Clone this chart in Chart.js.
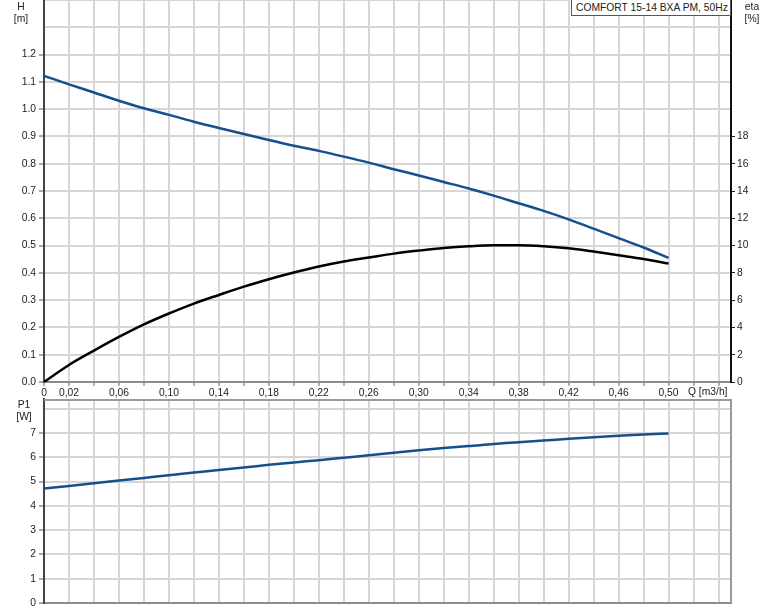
<!DOCTYPE html>
<html>
<head>
<meta charset="utf-8">
<script src="https://cdn.jsdelivr.net/npm/chart.js@4.4.1/dist/chart.umd.min.js"></script>
<style>
  html, body { margin: 0; padding: 0; background: #fff; }
  #wrap { position: relative; width: 774px; height: 611px; overflow: hidden;
          font-family: "Liberation Sans", Arial, sans-serif; font-size: 10.3px; color: #222; }
  #wrap canvas { position: absolute; left: 0; }
  .lbl { position: absolute; line-height: 12px; text-align: center; white-space: nowrap; }
  #legendBox { position: absolute; left: 571px; top: -1px; width: 154px; height: 15px; padding-left: 4px;
               border: 1px solid #555; background: #fff; line-height: 15px; white-space: nowrap; }
</style>
</head>
<body>
<div id="wrap">
  <canvas id="topChart" width="774" height="398" style="top:0"></canvas>
  <canvas id="botChart" width="774" height="213" style="top:398px"></canvas>
  <div class="lbl" style="left:6px;top:1px;width:30px">H<br>[m]</div>
  <div class="lbl" style="left:737px;top:1px;width:30px">eta<br>[%]</div>
  <div class="lbl" style="left:9px;top:399px;width:30px">P1<br>[W]</div>
  <div class="lbl" style="left:688px;top:386px;text-align:left">Q [m3/h]</div>
  <div id="legendBox">COMFORT 15-14 BXA PM, 50Hz</div>
</div>
<script>
// flow points (m3/h)
const qPoints = [0, 0.02, 0.04, 0.06, 0.08, 0.10, 0.12, 0.14, 0.16, 0.18, 0.20, 0.22, 0.24,
                 0.26, 0.28, 0.30, 0.32, 0.34, 0.36, 0.38, 0.40, 0.42, 0.44, 0.46, 0.48, 0.50];
// head H [m]
const headValues = [1.122, 1.091, 1.061, 1.031, 1.003, 0.979, 0.954, 0.931, 0.909, 0.887, 0.866, 0.847, 0.826,
                    0.804, 0.780, 0.757, 0.733, 0.709, 0.683, 0.655, 0.627, 0.596, 0.562, 0.527, 0.493, 0.455];
// efficiency eta [%]
const etaValues = [0, 1.25, 2.30, 3.30, 4.22, 5.02, 5.75, 6.38, 6.99, 7.53, 8.02, 8.46, 8.83,
                   9.12, 9.41, 9.63, 9.82, 9.95, 10.02, 10.02, 9.95, 9.80, 9.56, 9.29, 9.02, 8.68];
// power P1 [W]
const powerValues = [4.71, 4.82, 4.93, 5.04, 5.15, 5.26, 5.37, 5.48, 5.58, 5.69, 5.79, 5.88, 5.98,
                     6.08, 6.19, 6.29, 6.38, 6.46, 6.55, 6.62, 6.69, 6.76, 6.83, 6.89, 6.94, 6.98];

const qTickLabels = ['0', '0,02', '0,06', '0,10', '0,14', '0,18', '0,22', '0,26', '0,30', '0,34', '0,38', '0,42', '0,46', '0,50'];
const hTickLabels = ['0.0', '0.1', '0.2', '0.3', '0.4', '0.5', '0.6', '0.7', '0.8', '0.9', '1.0', '1.1', '1.2'];
const etaTickLabels = ['0', '2', '4', '6', '8', '10', '12', '14', '16', '18'];
const p1TickLabels = ['0', '1', '2', '3', '4', '5', '6', '7'];

const FONT = '"Liberation Sans", Arial, sans-serif';
const BLUE = '#13508c';
const GRID = '#d6d6d6';
const tickFont = { family: FONT, size: 10.3 };

const qGrid = Array.from({ length: 28 }, (_, i) => +(i * 0.02).toFixed(2));
const setTicks = vals => scale => { scale.ticks = vals.map(v => ({ value: v })); };
const noPad = s => { s.paddingTop = 0; s.paddingBottom = 0; s.paddingLeft = 0; s.paddingRight = 0; };
// only draw the small tick mark where there is a label
const markIfLabel = color => c => (c.tick && c.tick.label !== '' ? color : 'rgba(0,0,0,0)');

const pts = vals => qPoints.map((q, i) => ({ x: q, y: vals[i] }));
const lineStyle = { pointRadius: 0, borderWidth: 2.5, tension: 0.4, cubicInterpolationMode: 'monotone', fill: false };

new Chart(document.getElementById('topChart'), {
    type: 'line',
    data: {
        datasets: [
            { ...lineStyle, data: pts(headValues), yAxisID: 'h', borderColor: BLUE },
            { ...lineStyle, data: pts(etaValues), yAxisID: 'eta', borderColor: '#000' }
        ]
    },
    options: {
        responsive: false, animation: false, devicePixelRatio: 1,
        layout: { padding: 0 },
        plugins: { legend: { display: false }, tooltip: { enabled: false } },
        scales: {
            x: {
                type: 'linear', min: 0, max: 0.55,
                afterBuildTicks: setTicks(qGrid),
                ticks: {
                    autoSkip: false, maxRotation: 0, padding: 1, font: tickFont, color: '#222',
                    callback: v => {
                        const s = v === 0 ? '0' : v.toFixed(2).replace('.', ',');
                        return qTickLabels.includes(s) ? s : '';
                    }
                },
                grid: { color: GRID, lineWidth: 2, tickLength: 4, tickColor: '#666', tickWidth: 1 },
                border: { color: '#8c8c8c', width: 2 },
                afterFit: s => { s.height = 16; noPad(s); }
            },
            h: {
                position: 'left', min: 0, max: 1.4,
                afterBuildTicks: setTicks(Array.from({ length: 15 }, (_, i) => +(i * 0.1).toFixed(1))),
                ticks: {
                    padding: 3, font: tickFont, color: '#222',
                    callback: v => { const s = v.toFixed(1); return hTickLabels.includes(s) ? s : ''; }
                },
                grid: { color: GRID, lineWidth: 2, tickLength: 5, tickColor: markIfLabel('#555'), tickWidth: 1 },
                border: { color: '#444', width: 2 },
                afterFit: s => { s.width = 44; noPad(s); }
            },
            eta: {
                position: 'right', min: 0, max: 28,
                afterBuildTicks: setTicks(Array.from({ length: 15 }, (_, i) => i * 2)),
                ticks: {
                    padding: 2, font: tickFont, color: '#222',
                    callback: v => { const s = String(v); return etaTickLabels.includes(s) ? s : ''; }
                },
                grid: { drawOnChartArea: false, tickLength: 4, tickColor: markIfLabel('#222'), tickWidth: 1 },
                border: { color: '#111', width: 2 },
                afterFit: s => { s.width = 43; noPad(s); }
            }
        }
    }
});

const framePlugin = {
    id: 'frame',
    afterDraw(chart) {
        const { ctx, chartArea: a } = chart;
        ctx.save();
        ctx.strokeStyle = '#9a9a9a';
        ctx.lineWidth = 2;
        ctx.beginPath();
        ctx.moveTo(a.left, a.top + 1);
        ctx.lineTo(a.right, a.top + 1);
        ctx.moveTo(a.right, a.top);
        ctx.lineTo(a.right, a.bottom);
        ctx.stroke();
        ctx.restore();
    }
};

new Chart(document.getElementById('botChart'), {
    type: 'line',
    data: {
        datasets: [
            { ...lineStyle, data: pts(powerValues), yAxisID: 'p', borderColor: BLUE }
        ]
    },
    options: {
        responsive: false, animation: false, devicePixelRatio: 1,
        layout: { padding: { top: 1, right: 43, left: 0, bottom: 0 } },
        plugins: { legend: { display: false }, tooltip: { enabled: false } },
        scales: {
            x: {
                type: 'linear', min: 0, max: 0.55,
                afterBuildTicks: setTicks(qGrid),
                ticks: { display: false },
                grid: { color: GRID, lineWidth: 2, drawTicks: false },
                border: { color: '#8c8c8c', width: 2 },
                afterFit: s => { s.height = 8; noPad(s); }
            },
            p: {
                position: 'left', min: 0, max: 8.4,
                afterBuildTicks: setTicks([0, 1, 2, 3, 4, 5, 6, 7, 8]),
                ticks: {
                    padding: 3, font: tickFont, color: '#222',
                    callback: v => { const s = String(v); return p1TickLabels.includes(s) ? s : ''; }
                },
                grid: { color: GRID, lineWidth: 2, tickLength: 5, tickColor: markIfLabel('#555'), tickWidth: 1 },
                border: { color: '#444', width: 2 },
                afterFit: s => { s.width = 44; noPad(s); }
            }
        }
    },
    plugins: [framePlugin]
});
</script>
</body>
</html>
